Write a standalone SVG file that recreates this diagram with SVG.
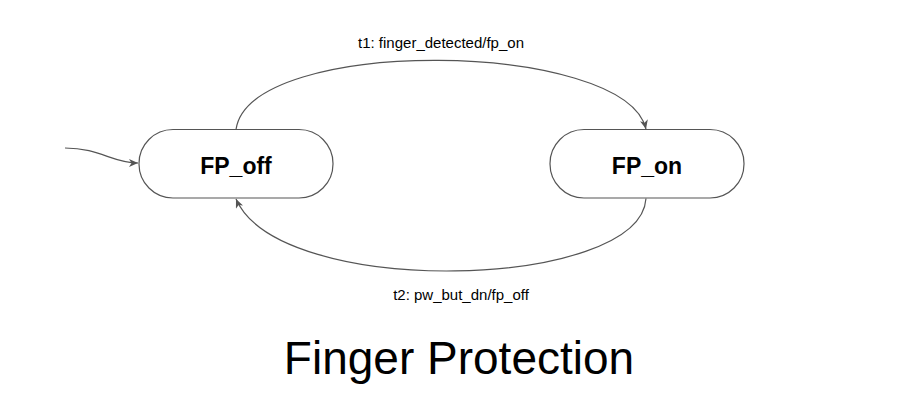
<svg xmlns="http://www.w3.org/2000/svg" width="904" height="415" viewBox="0 0 904 415">
<style>
.state{fill:#fff;stroke:#555;stroke-width:1.2}
.name{font-family:"Liberation Sans",Arial,sans-serif;font-weight:bold;font-size:23px;fill:#000;text-anchor:middle}
.lbl{font-family:"Liberation Sans",Arial,sans-serif;font-size:15px;fill:#000;text-anchor:middle}
.edge{fill:none;stroke:#555;stroke-width:1.2;marker-end:url(#arr)}
.title{font-family:"Liberation Sans",Arial,sans-serif;font-size:46px;fill:#000;text-anchor:middle}
</style>
<defs>
<marker id="arr" markerUnits="userSpaceOnUse" markerWidth="10" markerHeight="8" refX="9" refY="4" orient="auto">
<path d="M0,0 L9,4 L0,8 L2.5,4 z" fill="#555"/>
</marker>
</defs>
<rect width="904" height="415" fill="#fff"/>
<g id="connectors">
<path class="edge" d="M65,148 C100,148 112,163 138,163"/>
<path class="edge" d="M236,129.5 C250,35 625,40 646,129"/>
<path class="edge" d="M646,198.5 C640,290 280,300 236,199"/>
</g>
<g id="FP_off">
<rect class="state" x="139" y="129.5" width="194" height="68.5" rx="34" ry="34"/>
<text class="name" x="236" y="174">FP_off</text>
</g>
<g id="FP_on">
<rect class="state" x="550" y="129.5" width="194" height="68.5" rx="34" ry="34"/>
<text class="name" x="647" y="174">FP_on</text>
</g>
<g id="labels">
<text class="lbl" x="441" y="48">t1: finger_detected/fp_on</text>
<text class="lbl" x="461" y="300">t2: pw_but_dn/fp_off</text>
</g>
<text class="title" x="459" y="374">Finger Protection</text>
</svg>
